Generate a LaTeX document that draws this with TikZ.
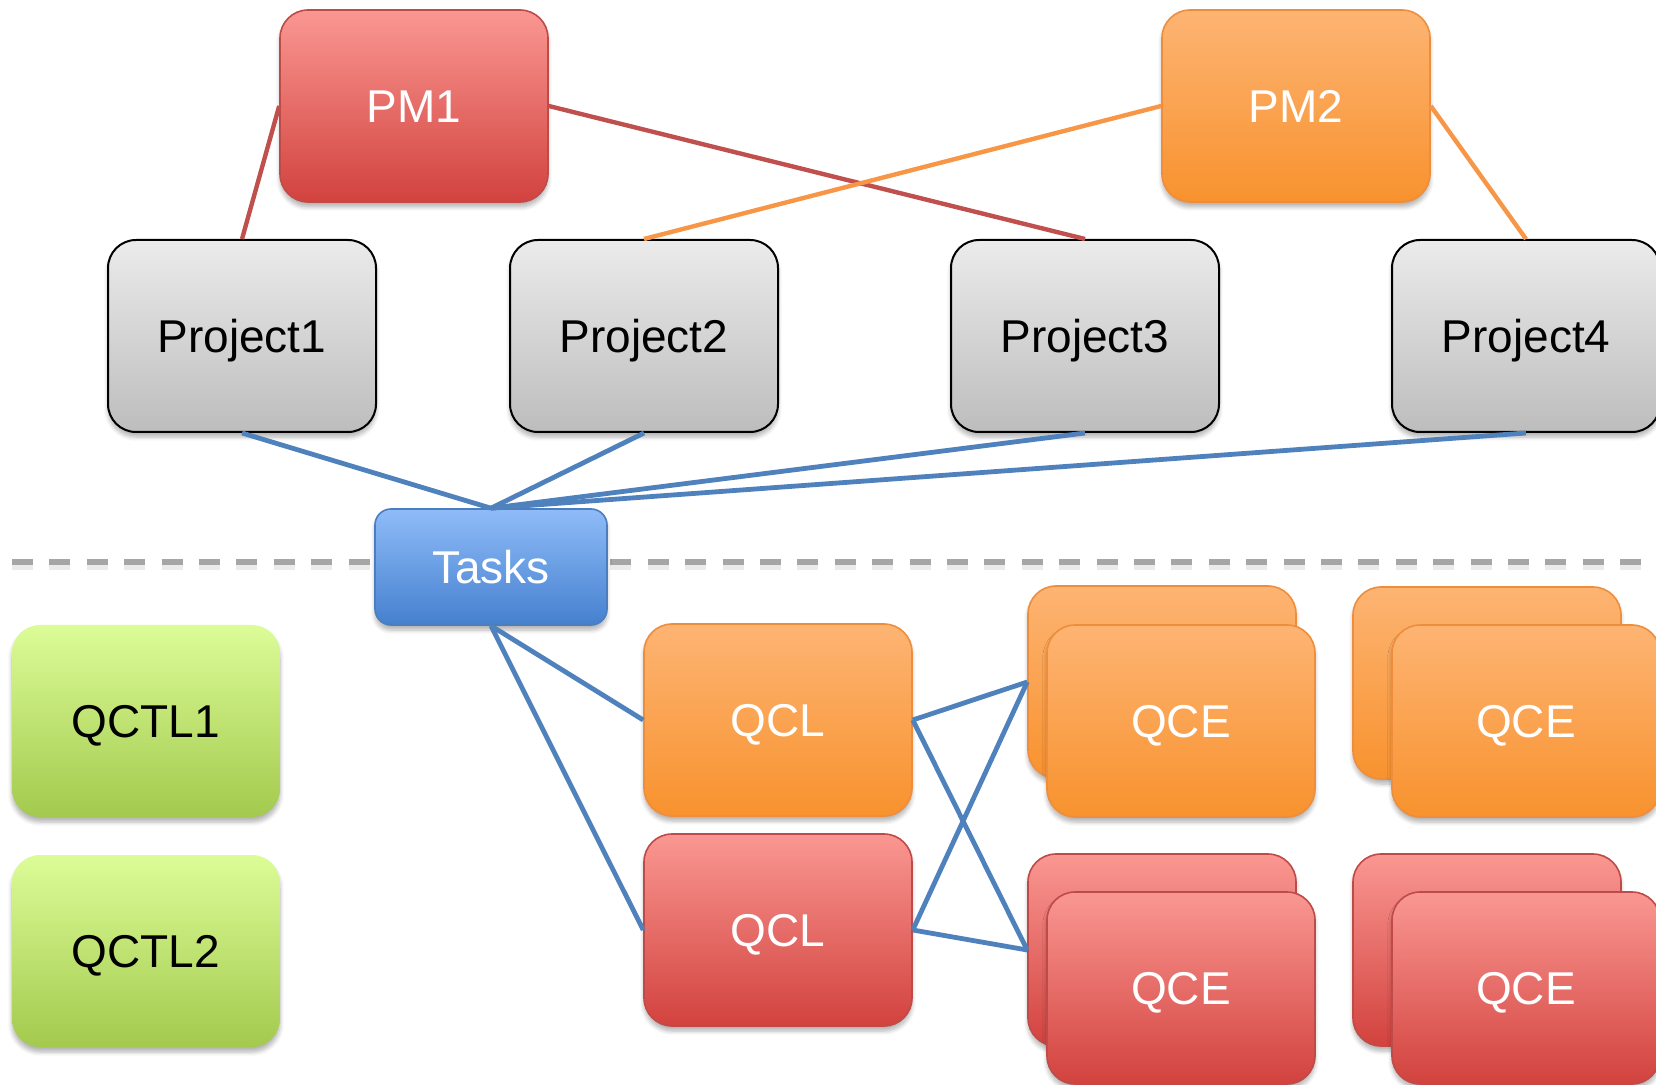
\documentclass[tikz,border=0pt]{standalone}
\usepackage{fontspec}
\setmainfont{Liberation Sans}
\usetikzlibrary{shadows.blur}
\definecolor{redT}{HTML}{FA9792}
\definecolor{redBot}{HTML}{D2423E}
\definecolor{redE}{HTML}{BE4B48}
\definecolor{orT}{HTML}{FDB473}
\definecolor{orBot}{HTML}{F8922E}
\definecolor{orE}{HTML}{EE8E3C}
\definecolor{grT}{HTML}{EBEBEB}
\definecolor{grBot}{HTML}{BDBDBD}
\definecolor{gnT}{HTML}{DCFC98}
\definecolor{gnBot}{HTML}{A3CA4D}
\definecolor{blT}{HTML}{8FBCF8}
\definecolor{blBot}{HTML}{4580CF}
\definecolor{blE}{HTML}{4A7EBF}
\definecolor{lnRed}{HTML}{C0504D}
\definecolor{lnOr}{HTML}{F79646}
\definecolor{lnBl}{HTML}{4F81BD}
\definecolor{sepGray}{HTML}{A6A6A6}
\begin{document}
\begin{tikzpicture}[x=0.5pt,y=-0.5pt,
  box/.style={rounded corners=14pt, minimum width=134pt, minimum height=96pt,
    inner sep=0pt, font=\fontsize{23}{27}\selectfont, text height=16.5pt, text depth=0pt,
    blur shadow={shadow xshift=0pt, shadow yshift=-2.5pt, shadow blur steps=6, shadow opacity=30}},
  redbox/.style={box, draw=redE, line width=0.8pt, top color=redT, bottom color=redBot, text=white},
  orbox/.style={box, draw=orE, line width=0.8pt, top color=orT, bottom color=orBot, text=white},
  graybox/.style={box, draw=black, line width=1pt, top color=grT, bottom color=grBot, text=black},
  greenbox/.style={box, top color=gnT, bottom color=gnBot, text=black},
  taskbox/.style={box, rounded corners=8pt, minimum width=116pt, minimum height=58pt,
    draw=blE, line width=0.8pt, top color=blT, bottom color=blBot, text=white},
  redln/.style={draw=lnRed, line width=2.2pt},
  orln/.style={draw=lnOr, line width=2.2pt},
  blln/.style={draw=lnBl, line width=2.4pt},
  sepln/.style={draw=sepGray, line width=2.6pt, dash pattern=on 10.5pt off 8.2pt}
]
\useasboundingbox (0,0) rectangle (1656,1085);
\clip (0,0) rectangle (1656,1085);

% separator
\coordinate (sepL) at (12,562);
\coordinate (sepR) at (1660,562);
\draw[sepln, draw=black, opacity=0.08] ([yshift=-2.5pt]sepL) -- ([yshift=-2.5pt]sepR);
\draw[sepln] (sepL) -- (sepR);

% top level
\node[redbox] (pm1) at (414,106) {PM1};
\node[orbox]  (pm2) at (1296,106) {PM2};
\node[graybox] (p1) at (242,336) {Project1};
\node[graybox] (p2) at (644,336) {Project2};
\node[graybox] (p3) at (1085,336) {Project3};
\node[graybox] (p4) at (1526,336) {Project4};

\node[taskbox] (tasks) at (491,567) {Tasks};

\node[greenbox] (qctl1) at (146,721) {QCTL1};
\node[greenbox] (qctl2) at (146,951) {QCTL2};

\node[orbox]  (qcl1) at (778,720) {QCL};
\node[redbox] (qcl2) at (778,930) {QCL};

\node[orbox]  (qceOAb) at (1162,682) {};
\node[orbox]  (qceOA)  at (1181,721) {QCE};
\node[orbox]  (qceOBb) at (1487,683) {};
\node[orbox]  (qceOB)  at (1526,721) {QCE};
\node[redbox] (qceRAb) at (1162,950) {};
\node[redbox] (qceRA)  at (1181,988) {QCE};
\node[redbox] (qceRBb) at (1487,950) {};
\node[redbox] (qceRB)  at (1526,988) {QCE};

% connectors
\draw[redln] (pm1.west) -- (p1.north);
\draw[redln] (pm1.east) -- (p3.north);
\draw[orln] (pm2.west) -- (p2.north);
\draw[orln] (pm2.east) -- (p4.north);

\foreach \p in {p1,p2,p3,p4} \draw[blln] (\p.south) -- (tasks.north);
\draw[blln] (tasks.south) -- (qcl1.west);
\draw[blln] (tasks.south) -- (qcl2.west);
\draw[blln] (qcl1.east) -- (qceOAb.west);
\draw[blln] (qcl1.east) -- (qceRAb.west);
\draw[blln] (qcl2.east) -- (qceOAb.west);
\draw[blln] (qcl2.east) -- (qceRAb.west);
\end{tikzpicture}
\end{document}
